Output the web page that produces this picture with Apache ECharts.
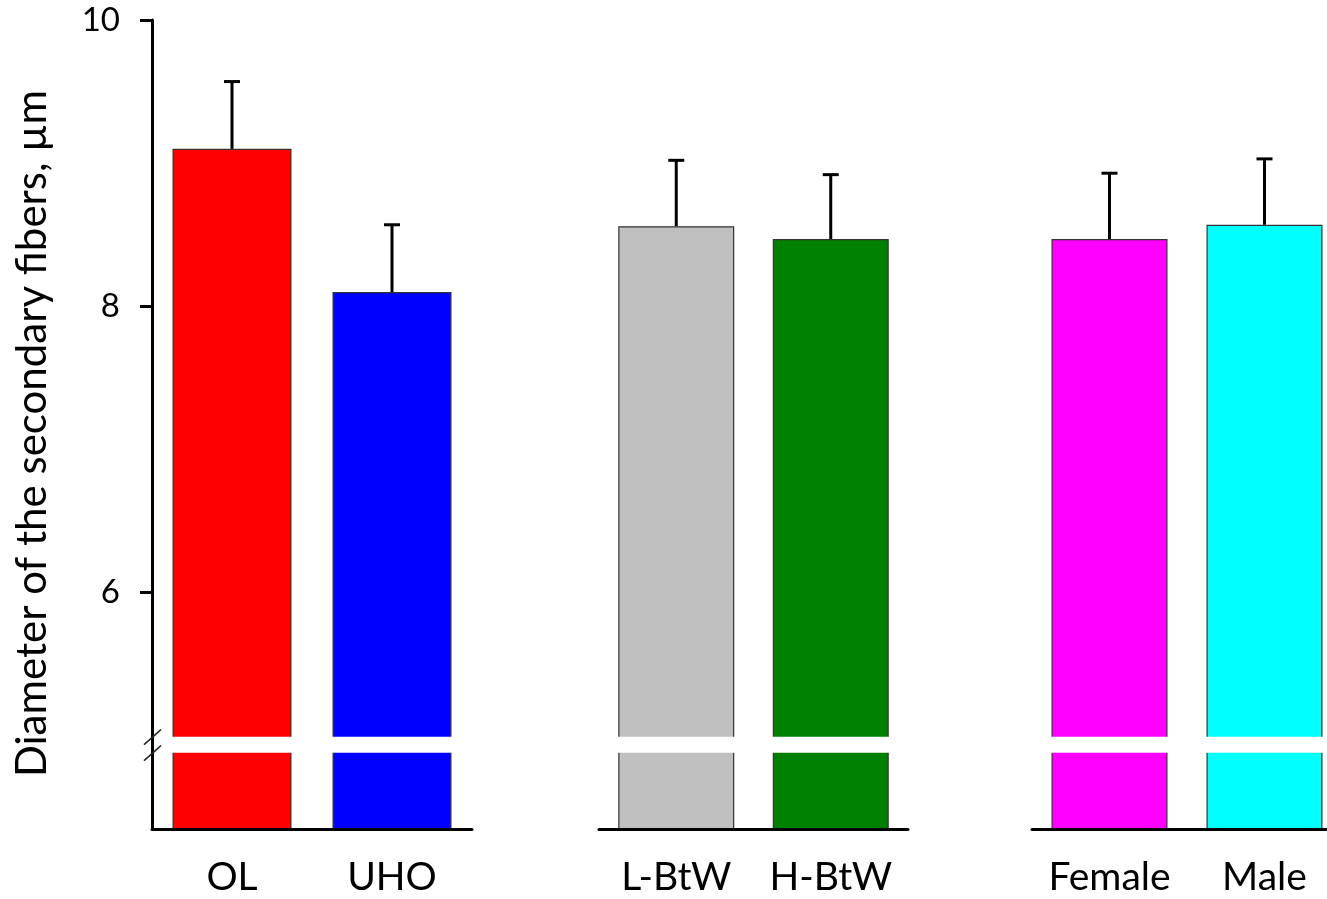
<!DOCTYPE html>
<html>
<head>
<meta charset="utf-8">
<script src="https://cdn.jsdelivr.net/npm/echarts@6/dist/echarts.min.js"></script>
<style>
html,body{margin:0;padding:0;background:#fff;}
#chart{width:1327px;height:899px;}
</style>
</head>
<body>
<div id="chart"></div>
<script>
// ---- data ----
const yAxisTitle = 'Diameter of the secondary fibers, \u00b5m';
const yTicks = [6, 8, 10];
const yMin = 4.35;
const yMax = 10;
const breakLow = 4.883;   // lower edge of the axis break band
const breakHigh = 4.995;  // upper edge of the axis break band

const categoriesA = ['OL', 'UHO'];
const meansA = [9.10, 8.10];
const upperA = [9.57, 8.57];

const categoriesB = ['L-BtW', 'H-BtW'];
const meansB = [8.56, 8.47];
const upperB = [9.02, 8.92];

const categoriesC = ['Female', 'Male'];
const meansC = [8.47, 8.57];
const upperC = [8.93, 9.03];

// ---- styles ----
const colorsA = ['#ff0000', '#0000ff'];
const colorsB = ['#c0c0c0', '#008000'];
const colorsC = ['#ff00ff', '#00ffff'];
const FONT = 'Lato, "Open Sans", sans-serif';

const groups = [
  {cats: categoriesA, means: meansA, upper: upperA, colors: colorsA},
  {cats: categoriesB, means: meansB, upper: upperB, colors: colorsB},
  {cats: categoriesC, means: meansC, upper: upperC, colors: colorsC}
];
const grids = [
  {left: 152, width: 320, top: 20, bottom: 70, outerBoundsMode: 'none', containLabel: false},
  {left: 599, width: 309, top: 20, bottom: 70, outerBoundsMode: 'none', containLabel: false},
  {left: 1032, width: 310, top: 20, bottom: 70, outerBoundsMode: 'none', containLabel: false}
];

const chart = echarts.init(document.getElementById('chart'), null, {renderer: 'canvas'});

const xAxes = [], yAxes = [], series = [];
groups.forEach((g, i) => {
  xAxes.push({
    type: 'category', gridIndex: i, data: g.cats, z: 10,
    axisLine: {show: true, lineStyle: {color: '#000', width: 3}},
    axisTick: {show: false},
    axisLabel: {interval: 0, hideOverlap: false, color: '#000', fontSize: 39,
      fontFamily: FONT, margin: 29}
  });
  yAxes.push({
    type: 'value', gridIndex: i, min: yMin, max: yMax, z: 10,
    show: i === 0,
    splitLine: {show: false},
    axisLine: {show: i === 0, lineStyle: {color: '#000', width: 3}},
    axisTick: {show: i === 0, length: 12, inside: false, customValues: yTicks,
      lineStyle: {color: '#000', width: 3}},
    axisLabel: {show: i === 0, customValues: yTicks, color: '#000', fontSize: 33,
      fontFamily: FONT, margin: 32}
  });
  series.push({
    type: 'bar', xAxisIndex: i, yAxisIndex: i,
    barWidth: i === 0 ? 119 : 116,
    data: g.means.map((v, k) => ({value: v, itemStyle: {color: g.colors[k]}})),
    itemStyle: {borderColor: '#333333', borderWidth: 1.2},
    animation: false,
    markArea: {
      silent: true, z: 5,
      itemStyle: {color: '#ffffff', opacity: 1, borderWidth: 0},
      data: [[{yAxis: breakLow}, {yAxis: breakHigh}]]
    }
  });
  series.push({
    type: 'custom', xAxisIndex: i, yAxisIndex: i, z: 6, animation: false,
    data: g.means.map((v, k) => [k, v, g.upper[k]]),
    renderItem: function (params, api) {
      const top = api.coord([api.value(0), api.value(2)]);
      const base = api.coord([api.value(0), api.value(1)]);
      const half = 8;
      return {
        type: 'group',
        children: [
          {type: 'line', shape: {x1: base[0], y1: base[1], x2: top[0], y2: top[1]},
            style: {stroke: '#000', lineWidth: 3}},
          {type: 'line', shape: {x1: top[0] - half, y1: top[1], x2: top[0] + half, y2: top[1]},
            style: {stroke: '#000', lineWidth: 3}}
        ]
      };
    }
  });
});

chart.setOption({
  backgroundColor: '#ffffff',
  animation: false,
  grid: grids,
  xAxis: xAxes,
  yAxis: yAxes,
  series: series
});

// decorations: break slashes on y axis and rotated axis title
const ax = grids[0].left;
const yHi = chart.convertToPixel({yAxisIndex: 0}, breakHigh);
const yLo = chart.convertToPixel({yAxisIndex: 0}, breakLow);
const gridMid = (chart.convertToPixel({yAxisIndex: 0}, yMax) + chart.convertToPixel({yAxisIndex: 0}, yMin)) / 2;
chart.setOption({
  graphic: [
    {type: 'line', z: 20, shape: {x1: ax - 8, y1: yHi + 8, x2: ax + 9, y2: yHi - 7},
      style: {stroke: '#222', lineWidth: 1.5}},
    {type: 'line', z: 20, shape: {x1: ax - 8, y1: yLo + 8, x2: ax + 9, y2: yLo - 7},
      style: {stroke: '#222', lineWidth: 1.5}},
    {type: 'text', z: 20, x: 32, y: gridMid + 9, rotation: Math.PI / 2,
      style: {text: yAxisTitle, font: '42px ' + FONT, fill: '#000',
        textAlign: 'center', textVerticalAlign: 'middle', align: 'center', verticalAlign: 'middle'}}
  ]
});
</script>
</body>
</html>
